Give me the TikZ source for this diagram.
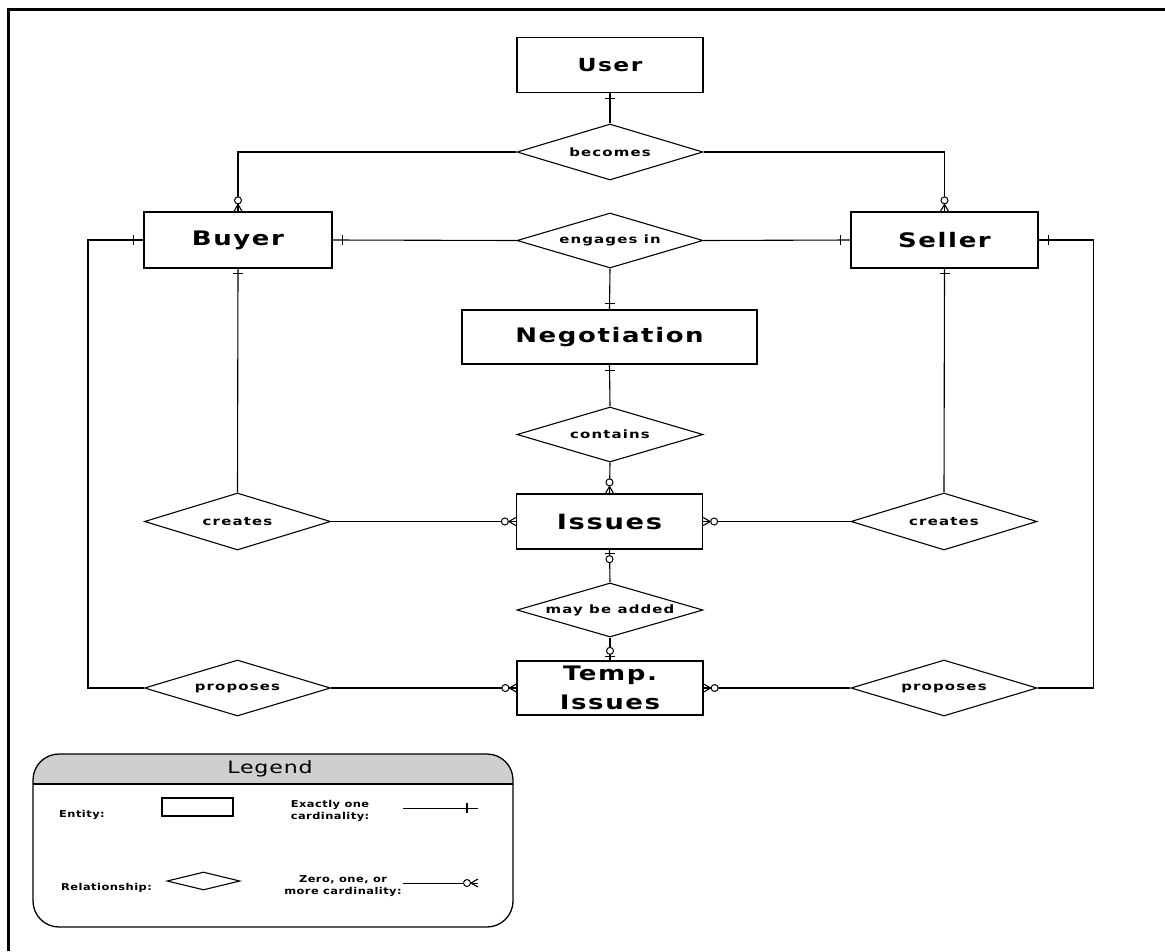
\documentclass[tikz,border=0pt]{standalone}
\usepackage{fontspec}
\usetikzlibrary{shapes.geometric}
% wide, lightly tracked sans faces for the labels
\newfontfamily\entfont[FakeStretch=1.3,LetterSpace=8]{DejaVu Sans Bold}
\newfontfamily\relfont[FakeStretch=1.3,LetterSpace=10]{DejaVu Sans Bold}
\newfontfamily\legfont[FakeStretch=1.2,LetterSpace=5]{DejaVu Sans Bold}
\newfontfamily\legtitlefont[FakeStretch=1.3,LetterSpace=5]{DejaVu Sans}
\begin{document}
\begin{tikzpicture}[x=1pt,y=-1pt,
  entity/.style={draw, line width=1.3pt, rectangle, minimum width=186pt,
    minimum height=55pt, inner sep=0pt, align=center,
    font=\entfont\fontsize{20}{29}\selectfont},
  rel/.style={draw, line width=1.1pt, diamond, aspect=3.3, minimum width=186pt,
    minimum height=56pt, inner sep=0pt, font=\relfont\fontsize{11.5}{13}\selectfont},
  link/.style={line width=1.1pt},
  legtext/.style={inner sep=0pt, font=\legfont\fontsize{9.5}{12.5}\selectfont},
  % cardinality marks; the local x axis points away from the entity
  pics/one/.style={code={\draw[line width=1.1pt] (#1,-5) -- (#1,5);}},
  pics/zmany/.style={code={
    \draw[line width=1.1pt] (0,-4) -- (7,0) -- (0,4);
    \draw[line width=1pt, fill=white] (11,0) circle (3.5);}},
  pics/zone/.style={code={
    \draw[line width=1.1pt] (4,-5) -- (4,5);
    \draw[line width=1pt, fill=white] (9.5,0) circle (3.5);}},
]
\useasboundingbox (0,0) rectangle (1165,951);

% page frame
\draw[line width=3pt] (8,951) -- (8,9) -- (1165,9);

% entities
\node (user) [entity, font=\entfont\fontsize{18}{22}\selectfont] at (610,65) {User};
\node (buyer) [entity, minimum width=188pt, minimum height=56pt] at (238,240) {Buyer};
\node (seller) [entity, minimum width=187pt, minimum height=56pt] at (944.5,240) {Seller};
\node (negotiation) [entity, minimum width=295pt, minimum height=54pt] at (609.5,337) {Negotiation};
\node (issues) [entity, font=\entfont\fontsize{21}{29}\selectfont] at (609.5,521.5) {Issues};
\node (temp) [entity, minimum height=54pt] at (610,688) {Temp.\\Issues};

% relationships
\node (becomes) [rel] at (610,152) {becomes};
\node (engages) [rel, minimum height=55pt] at (610,240.5) {engages in};
\node (contains) [rel, minimum height=55pt] at (610,434.5) {contains};
\node (createsL) [rel, minimum height=57pt] at (237.5,521.5) {creates};
\node (createsR) [rel, minimum height=57pt] at (944,521.5) {creates};
\node (mayadd) [rel, minimum height=54pt] at (610,610) {may be added};
\node (proposesL) [rel] at (237.5,688) {proposes};
\node (proposesR) [rel] at (944,688) {proposes};

% connectors
\draw[link] (user.south) -- (becomes.north);
\draw[link] (becomes.west) -| (buyer.north);
\draw[link] (becomes.east) -| (seller.north);
\draw[link] (buyer.east) -- (engages.west);
\draw[link] (engages.east) -- (seller.west);
\draw[link] (engages.south) -- (negotiation.north);
\draw[link] (negotiation.south) -- (contains.north);
\draw[link] (contains.south) -- (issues.north);
\draw[link] (buyer.south) -- (createsL.north);
\draw[link] (seller.south) -- (createsR.north);
\draw[link] (createsL.east) -- (issues.west);
\draw[link] (issues.east) -- (createsR.west);
\draw[link] (issues.south) -- (mayadd.north);
\draw[link] (mayadd.south) -- (temp.north);
\draw[link] (proposesL.east) -- (temp.west);
\draw[link] (temp.east) -- (proposesR.west);
\draw[link] (proposesL.west) -- ++(-56,0) |- (buyer.west);
\draw[link] (proposesR.east) -- ++(56,0) |- (seller.east);

% cardinality marks
\pic[rotate=270] at (user.south) {one=5};
\pic[rotate=90] at (buyer.north) {zmany};
\pic[rotate=90] at (seller.north) {zmany};
\pic[rotate=180] at (buyer.west) {one=10};
\pic at (buyer.east) {one=10};
\pic[rotate=180] at (seller.west) {one=10};
\pic at (seller.east) {one=10};
\pic[rotate=90] at (negotiation.north) {one=6};
\pic[rotate=270] at (negotiation.south) {one=6};
\pic[rotate=270] at (buyer.south) {one=5};
\pic[rotate=270] at (seller.south) {one=5};
\pic[rotate=90] at (issues.north) {zmany};
\pic[rotate=180] at (issues.west) {zmany};
\pic at (issues.east) {zmany};
\pic[rotate=270] at (issues.south) {zone};
\pic[rotate=90] at (temp.north) {zone};
\pic[rotate=180] at (temp.west) {zmany};
\pic at (temp.east) {zmany};

% legend panel
\begin{scope}
  \clip[rounded corners=26pt] (33,754) rectangle (513,927);
  \fill[gray!38] (33,754) rectangle (513,784);
\end{scope}
\draw[line width=1.3pt, rounded corners=26pt] (33,754) rectangle (513,927);
\draw[line width=1.1pt] (33,784) -- (513,784);
\node (legendtitle) [font=\legtitlefont\fontsize{17}{19}\selectfont] at (270,769) {Legend};

\node (lentity) [legtext, anchor=west] at (59,815) {Entity:};
\node (lentitybox) [draw, line width=1.1pt, minimum width=71pt, minimum height=18pt, inner sep=0pt] at (197.5,807) {};
\node (lrel) [legtext, anchor=west] at (61,888) {Relationship:};
\node (lrelbox) [draw, line width=1.1pt, diamond, aspect=4, minimum width=73pt, minimum height=18pt, inner sep=0pt] at (203.5,881) {};
\node (lone) [legtext, align=center] at (330,811) {Exactly one\\cardinality:};
\node (lmany) [legtext, align=center] at (343,886) {Zero, one, or\\more cardinality:};

\coordinate (lonea) at (403,808);
\coordinate (loneb) at (478,808);
\draw[line width=1pt] (lonea) -- (loneb);
\pic[rotate=180] at (loneb) {one=11};
\coordinate (lmanya) at (403,883);
\coordinate (lmanyb) at (478,883);
\draw[line width=1pt] (lmanya) -- (lmanyb);
\pic[rotate=180] at (lmanyb) {zmany};
\end{tikzpicture}
\end{document}
